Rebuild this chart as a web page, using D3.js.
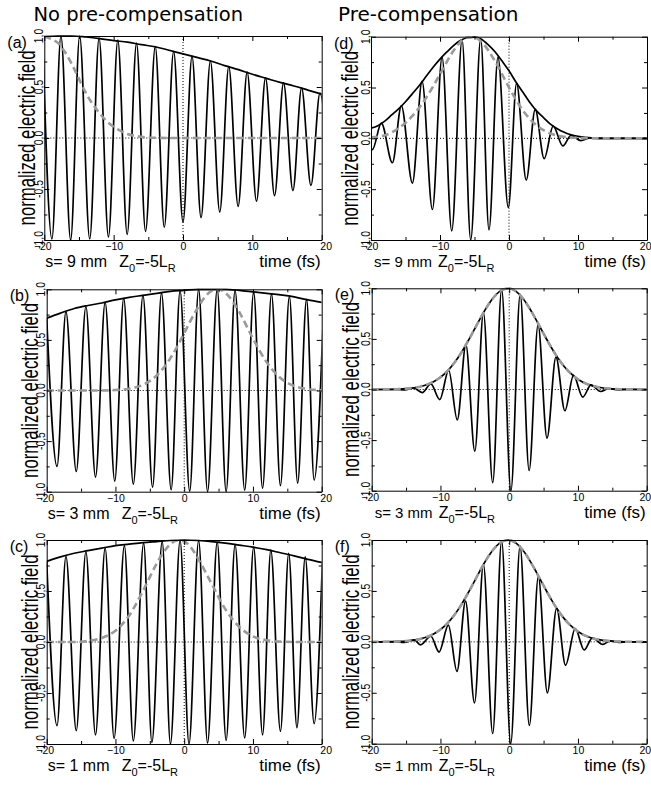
<!DOCTYPE html>
<html lang="en">
<head>
<meta charset="UTF-8" />
<title>Pulse fields</title>
<script src="https://cdnjs.cloudflare.com/ajax/libs/d3/7.8.5/d3.min.js"></script>
<style>
  body { margin: 0; background: #fff; }
  text { font-family: "Liberation Sans", Arial, sans-serif; fill: #000; }
</style>
</head>
<body>
<div id="chart"></div>
<script>
// ---- data ----
const columnTitles = ["No pre-compensation", "Pre-compensation"];
const panelLetters = ["(a)", "(b)", "(c)", "(d)", "(e)", "(f)"];
const sepLabels = ["s= 9 mm", "s= 3 mm", "s= 1 mm", "s= 9 mm", "s= 3 mm", "s= 1 mm"];
const xTickValues = [-20, -10, 0, 10, 20];
const xMinorValues = [-15, -5, 5, 15];
const yTickValues = [-1, -0.5, 0, 0.5, 1];
const yTickLabels = ["-1,0", "-0,5", "0,0", "0,5", "1,0"];
const yMinorValues = [-0.75, -0.25, 0.25, 0.75];

// carrier extrema [time fs, field]
const fieldA = [[-20.25,0.995],[-18.9,-0.99],[-17.6,1.0],[-16.2,-1.0],[-14.9,1.0],[-13.45,-0.99],[-12.1,0.98],[-10.75,-0.97],[-9.4,0.96],[-8.05,-0.945],[-6.7,0.93],[-5.4,-0.915],[-4.0,0.895],[-2.7,-0.875],[-1.35,0.85],[0,-0.825],[1.3,0.80],[2.6,-0.78],[3.95,0.755],[5.3,-0.725],[6.6,0.70],[7.95,-0.67],[9.25,0.645],[10.6,-0.62],[11.9,0.59],[13.2,-0.565],[14.5,0.54],[15.85,-0.515],[17.1,0.49],[18.45,-0.465],[19.75,0.44],[21.1,-0.42]];
const fieldB = [[-20.0,0.715],[-18.5,-0.75],[-17.2,0.78],[-15.7,-0.80],[-14.3,0.83],[-12.9,-0.855],[-11.5,0.87],[-10.1,-0.895],[-8.8,0.91],[-7.4,-0.925],[-6.0,0.94],[-4.6,-0.955],[-3.3,0.965],[-1.9,-0.98],[-0.6,0.985],[0.8,-0.995],[2.1,1.0],[3.4,-1.0],[4.8,1.0],[6.1,-1.0],[7.4,0.99],[8.8,-0.985],[10.1,0.975],[11.4,-0.965],[12.7,0.955],[14.0,-0.94],[15.3,0.93],[16.5,-0.915],[17.8,0.90],[18.9,-0.885],[20.3,0.865]];
const fieldC = [[-20.0,0.79],[-18.5,-0.82],[-17.2,0.84],[-15.7,-0.87],[-14.3,0.885],[-12.9,-0.91],[-11.5,0.92],[-10.2,-0.945],[-8.7,0.945],[-7.4,-0.97],[-5.9,0.97],[-4.7,-0.985],[-3.2,0.985],[-2.0,-1.0],[-0.6,0.995],[0.7,-1.0],[2.1,0.995],[3.4,-0.99],[4.8,0.98],[6.1,-0.965],[7.4,0.955],[8.8,-0.94],[10.1,0.93],[11.4,-0.91],[12.6,0.90],[14.0,-0.875],[15.2,0.87],[16.4,-0.84],[17.6,0.835],[18.9,-0.80],[20.1,0.79]];
const fieldD = [[-21.2,0.07],[-19.8,-0.11],[-18.5,0.15],[-16.9,-0.24],[-15.6,0.32],[-14.0,-0.44],[-12.6,0.56],[-11.1,-0.70],[-9.7,0.80],[-8.3,-0.91],[-6.8,0.97],[-5.55,-1.0],[-4.1,0.98],[-2.9,-0.90],[-1.6,0.80],[-0.1,-0.68],[1.1,0.54],[2.5,-0.41],[3.8,0.285],[5.1,-0.20],[6.4,0.12],[7.8,-0.075],[9.0,0.03],[10.4,-0.023],[11.8,0.005],[13.0,-0.002],[14.5,0],[20,0]];
const fieldE = [[-20,0],[-16.5,0],[-15.2,-0.005],[-13.9,0.015],[-12.65,-0.03],[-11.4,0.055],[-10.1,-0.10],[-8.8,0.19],[-7.55,-0.30],[-6.3,0.44],[-5.0,-0.61],[-3.75,0.76],[-2.4,-0.92],[-1.1,0.99],[0.25,-1.0],[1.6,0.94],[2.9,-0.80],[4.2,0.64],[5.5,-0.48],[6.8,0.32],[8.1,-0.21],[9.35,0.14],[10.7,-0.075],[11.9,0.045],[13.3,-0.02],[14.5,0.01],[15.8,-0.004],[17,0],[20,0]];
const fieldF = [[-20,0],[-16.5,0],[-15.3,-0.005],[-13.8,0.02],[-12.9,-0.03],[-11.4,0.055],[-10.2,-0.10],[-8.85,0.165],[-7.6,-0.29],[-6.35,0.40],[-5.05,-0.60],[-3.75,0.76],[-2.4,-0.90],[-1.1,0.99],[0.22,-1.0],[1.58,0.94],[2.93,-0.82],[4.24,0.64],[5.55,-0.50],[6.9,0.33],[8.2,-0.23],[9.6,0.13],[10.9,-0.08],[12.1,0.04],[13.6,-0.025],[14.7,0.01],[16.0,-0.005],[17,0],[20,0]];

// solid black envelopes
const envA = [[-20,0.995],[-18,1.0],[-16,1.0],[-14,0.99],[-12,0.975],[-10,0.955],[-8,0.94],[-6,0.915],[-4,0.895],[-2,0.86],[0,0.825],[2,0.79],[4,0.755],[6,0.71],[8,0.67],[10,0.625],[12,0.585],[14,0.545],[16,0.51],[18,0.47],[20,0.43]];
const envB = [[-20,0.715],[-18,0.765],[-16,0.81],[-14,0.84],[-12,0.865],[-10,0.895],[-8,0.92],[-6,0.94],[-4,0.96],[-2,0.98],[0,0.99],[2,1.0],[4,1.0],[6,1.0],[8,0.99],[10,0.975],[12,0.96],[14,0.945],[16,0.925],[18,0.895],[20,0.87]];
const envC = [[-20,0.79],[-18,0.835],[-16,0.87],[-14,0.895],[-12,0.92],[-10,0.945],[-8,0.96],[-6,0.975],[-4,0.985],[-2,0.995],[0,1.0],[2,0.995],[4,0.985],[6,0.97],[8,0.95],[10,0.93],[12,0.905],[14,0.875],[16,0.845],[18,0.81],[20,0.78]];
const envD = [[-20,0.10],[-19,0.125],[-18,0.17],[-17,0.23],[-16,0.29],[-15,0.36],[-14,0.44],[-13,0.52],[-12,0.61],[-11,0.70],[-10,0.78],[-9,0.85],[-8,0.915],[-7,0.965],[-6,0.99],[-5,0.995],[-4,0.975],[-3,0.92],[-2,0.85],[-1,0.76],[0,0.665],[1,0.555],[2,0.455],[3,0.355],[4,0.27],[5,0.205],[6,0.14],[7,0.095],[8,0.06],[9,0.035],[10,0.02],[11,0.01],[12,0.004],[14,0],[20,0]];
const envE = [[-20,0],[-17,0.002],[-16,0.004],[-15,0.008],[-14,0.015],[-13,0.027],[-12,0.047],[-11,0.077],[-10,0.121],[-9,0.182],[-8,0.262],[-7,0.361],[-6,0.477],[-5,0.602],[-4,0.728],[-3,0.842],[-2,0.931],[-1,0.986],[0,0.999],[1,0.969],[2,0.899],[3,0.798],[4,0.678],[5,0.552],[6,0.43],[7,0.32],[8,0.228],[9,0.156],[10,0.101],[11,0.063],[12,0.038],[13,0.022],[14,0.012],[15,0.006],[16,0.003],[17,0.001],[20,0]];
const envF = [[-20,0],[-17,0.002],[-16,0.004],[-15,0.008],[-14,0.015],[-13,0.027],[-12,0.047],[-11,0.077],[-10,0.121],[-9,0.182],[-8,0.262],[-7,0.361],[-6,0.477],[-5,0.602],[-4,0.728],[-3,0.842],[-2,0.931],[-1,0.986],[0,0.999],[1,0.969],[2,0.899],[3,0.798],[4,0.678],[5,0.552],[6,0.43],[7,0.32],[8,0.228],[9,0.156],[10,0.101],[11,0.063],[12,0.038],[13,0.022],[14,0.012],[15,0.006],[16,0.003],[17,0.001],[20,0]];

// grey dashed reference envelopes
const dashA = [[-20,0.995],[-19,0.97],[-18,0.93],[-17,0.84],[-16,0.72],[-15,0.58],[-14,0.44],[-13,0.33],[-12,0.24],[-11,0.165],[-10,0.11],[-9,0.07],[-8,0.04],[-7,0.022],[-6,0.011],[-5,0.005],[-4,0.002],[-2,0],[20,0]];
const dashB = [[-20,0],[-12,0],[-10,0.005],[-8,0.018],[-6,0.056],[-4,0.148],[-2,0.32],[0,0.567],[1,0.70],[2,0.82],[3,0.923],[4,0.984],[5,0.999],[6,0.965],[7,0.887],[8,0.777],[10,0.514],[12,0.279],[14,0.124],[16,0.045],[18,0.014],[20,0.003]];
const dashC = [[-20,0],[-16,0],[-14,0.01],[-12,0.04],[-10,0.11],[-8,0.26],[-6,0.50],[-4,0.77],[-3,0.88],[-2,0.96],[-1,0.995],[0,0.985],[1,0.925],[2,0.82],[4,0.57],[6,0.32],[8,0.15],[10,0.055],[12,0.017],[14,0.004],[16,0],[20,0]];
const dashD = [[-20,0.01],[-18,0.03],[-16,0.10],[-14,0.22],[-12,0.40],[-10,0.63],[-8,0.866],[-6,0.994],[-5,0.994],[-4,0.95],[-2,0.756],[0,0.50],[2,0.276],[4,0.127],[6,0.048],[8,0.015],[10,0.004],[12,0],[20,0]];
const dashE = envE;
const dashF = envF;

// ---- layout (pixel frame of each panel) ----
const width = 651, height = 785;
const layout = [
  { x0: 44.3, x1: 321.7, y0: 36,    y1: 240 },
  { x0: 46.7, x1: 321.7, y0: 289.3, y1: 491.7 },
  { x0: 46.7, x1: 321.7, y0: 540,   y1: 744 },
  { x0: 371,  x1: 647,   y0: 36.7,  y1: 240 },
  { x0: 371.7, x1: 646.7, y0: 288.3, y1: 490.7 },
  { x0: 371.7, x1: 646.7, y0: 540,   y1: 743.7 }
];
const fields = [fieldA, fieldB, fieldC, fieldD, fieldE, fieldF];
const envelopes = [envA, envB, envC, envD, envE, envF];
const dashes = [dashA, dashB, dashC, dashD, dashE, dashF];

const svg = d3.select("#chart").append("svg")
  .attr("width", width).attr("height", height)
  .style("display", "block");

svg.append("text").attr("x", 243).attr("y", 21).attr("text-anchor", "end")
  .style("font-family", "'DejaVu Sans', sans-serif").style("font-size", "19.5px")
  .text(columnTitles[0]);
svg.append("text").attr("x", 338).attr("y", 21)
  .style("font-family", "'DejaVu Sans', sans-serif").style("font-size", "20px")
  .text(columnTitles[1]);

function drawPanel(i) {
  const L = layout[i];
  const left = i < 3;
  const x = d3.scaleLinear().domain([-20, 20]).range([L.x0, L.x1]);
  const y = d3.scaleLinear().domain([-1, 1]).range([L.y1, L.y0]);
  const g = svg.append("g");
  const clipId = "clip" + i;
  g.append("clipPath").attr("id", clipId).append("rect")
    .attr("x", L.x0).attr("y", L.y0 - 1)
    .attr("width", L.x1 - L.x0).attr("height", L.y1 - L.y0 + 2);

  const line = d3.line().x(d => x(d[0])).y(d => y(d[1])).curve(d3.curveMonotoneX);
  const plot = g.append("g").attr("clip-path", `url(#${clipId})`);

  // dotted zero lines
  plot.append("line").attr("x1", L.x0).attr("x2", L.x1).attr("y1", y(0)).attr("y2", y(0))
    .attr("stroke", "#000").attr("stroke-width", 1).attr("stroke-dasharray", "1,2");
  plot.append("line").attr("x1", x(0)).attr("x2", x(0)).attr("y1", L.y0).attr("y2", L.y1)
    .attr("stroke", "#000").attr("stroke-width", 1).attr("stroke-dasharray", "1,2");

  plot.append("path").datum(fields[i]).attr("d", line)
    .attr("fill", "none").attr("stroke", "#000").attr("stroke-width", 1.7);
  plot.append("path").datum(envelopes[i]).attr("d", line)
    .attr("fill", "none").attr("stroke", "#000").attr("stroke-width", 1.7);
  plot.append("path").datum(dashes[i]).attr("d", line)
    .attr("fill", "none").attr("stroke", "#9a9a9a").attr("stroke-width", 2.6)
    .attr("stroke-dasharray", "7,4");

  // frame with inward ticks on all sides
  const axes = [
    { ax: d3.axisBottom(x), at: `translate(0,${L.y1})`, vals: xTickValues, minor: xMinorValues },
    { ax: d3.axisTop(x), at: `translate(0,${L.y0})`, vals: xTickValues, minor: xMinorValues },
    { ax: d3.axisLeft(y), at: `translate(${L.x0},0)`, vals: yTickValues, minor: yMinorValues },
    { ax: d3.axisRight(y), at: `translate(${L.x1},0)`, vals: yTickValues, minor: yMinorValues }
  ];
  axes.forEach((a, k) => {
    const major = g.append("g").attr("transform", a.at)
      .call(a.ax.tickValues(a.vals).tickSize(-5).tickSizeOuter(0).tickPadding(2.5)
        .tickFormat(k === 0 ? d3.format("d") : () => ""));
    major.select(".domain").attr("stroke-width", 1);
    major.selectAll("text").style("font-size", "10.5px")
      .style("font-family", "'Liberation Sans', Arial, sans-serif");
    if (k === 0) {
      major.selectAll("text").filter(d => d === 20)
        .attr("text-anchor", left ? "middle" : "end").attr("dx", 4);
      major.selectAll("text").filter(d => d === -20).attr("dx", -2);
    }
    const minor = g.append("g").attr("transform", a.at)
      .call(a.ax.tickValues(a.minor).tickSize(-3).tickFormat(() => ""));
    minor.select(".domain").remove();
  });

  // rotated y tick labels
  g.selectAll(".ylab").data(yTickValues).join("text")
    .attr("transform", d => `translate(${L.x0 - 1.5},${y(d)}) rotate(-90) scale(1,1.3)`)
    .attr("text-anchor", "middle").style("font-size", "10.4px")
    .text((d, j) => yTickLabels[j]);

  // axis titles
  g.append("text")
    .attr("transform", `translate(${L.x0 - (left ? 9 : 13)},${(L.y0 + L.y1) / 2}) rotate(-90) scale(1,1.4)`)
    .attr("text-anchor", "middle").style("font-size", "16.75px")
    .text("normalized electric field");
  g.append("text").attr("x", L.x0 - 37).attr("y", L.y0 + 12)
    .style("font-size", "16px").text(panelLetters[i]);

  const by = L.y1 + 27;
  g.append("text").attr("x", L.x0 + (left ? 1 : 3)).attr("y", by)
    .style("font-size", left ? "16px" : "15px").text(sepLabels[i]);
  const z = g.append("text").attr("x", L.x0 + (left ? 75 : 67)).attr("y", by).style("font-size", "16px");
  z.append("tspan").text("Z");
  z.append("tspan").attr("dy", 5).style("font-size", "11px").text("0");
  z.append("tspan").attr("dy", -5).text("=-5L");
  z.append("tspan").attr("dy", 5).style("font-size", "11px").text("R");
  g.append("text").attr("x", L.x1 - 1).attr("y", by).attr("text-anchor", "end")
    .style("font-size", "17px").text("time (fs)");
}

d3.range(6).forEach(drawPanel);
</script>
</body>
</html>
